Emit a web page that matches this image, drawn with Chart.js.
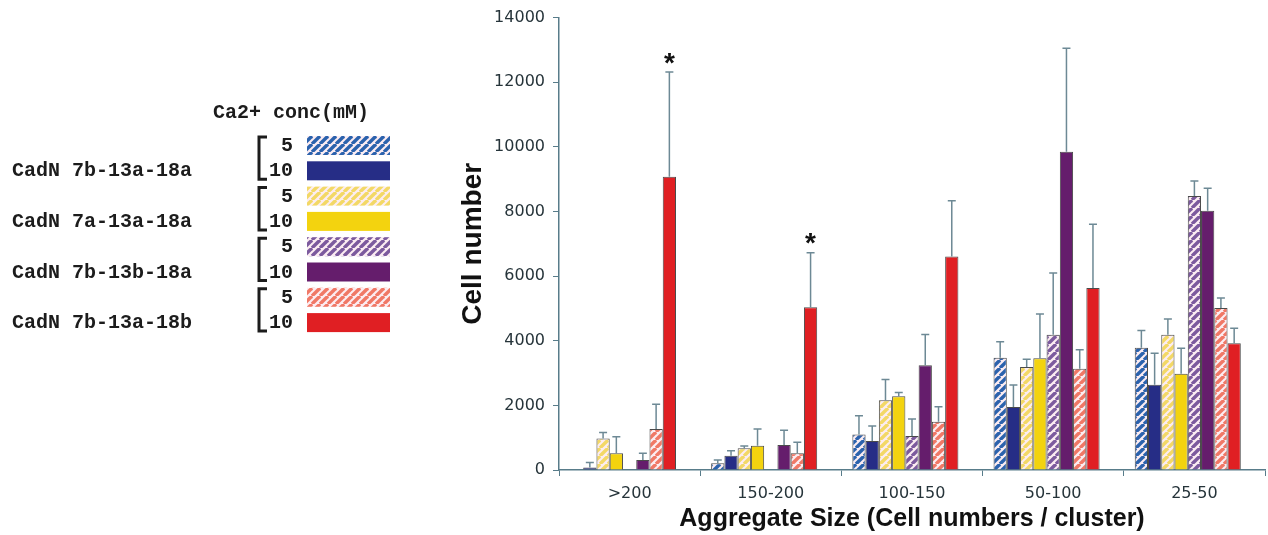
<!DOCTYPE html>
<html>
<head>
<meta charset="utf-8">
<script src="https://cdn.jsdelivr.net/npm/chart.js@4.4.1/dist/chart.umd.min.js"></script>
<style>
  body { margin: 0; background: #fff; }
  #wrap { position: relative; width: 1268px; height: 535px; }
</style>
</head>
<body>
<div id="wrap"><canvas id="myChart"></canvas></div>
<script>
const categories = ['>200', '150-200', '100-150', '50-100', '25-50']
const yTicks = [0, 2000, 4000, 6000, 8000, 10000, 12000, 14000]

// mean cell numbers, one array per construct / Ca2+ concentration
const b13a18a_5 = [null, 206, 1100, 3470, 3780]
const b13a18a_10 = [80, 440, 895, 1950, 2640]
const a13a18a_5 = [975, 670, 2160, 3190, 4185]
const a13a18a_10 = [515, 750, 2280, 3455, 2980]
const b13b18a_5 = [null, null, 1050, 4185, 8480]
const b13b18a_10 = [310, 770, 3240, 9850, 8020]
const b13a18b_5 = [1265, 515, 1490, 3135, 5015]
const b13a18b_10 = [9075, 5035, 6610, 5635, 3925]

// upper error bars (SD)
const b13a18a_5Err = [null, 100, 575, 495, 535]
const b13a18a_10Err = [155, 155, 465, 680, 975]
const a13a18a_5Err = [185, 70, 640, 235, 485]
const a13a18a_10Err = [515, 515, 115, 1375, 790]
const b13b18a_5Err = [null, null, 525, 1910, 465]
const b13b18a_10Err = [205, 460, 955, 3205, 700]
const b13a18b_5Err = [770, 340, 465, 585, 310]
const b13a18b_10Err = [3240, 1690, 1725, 1970, 460]

const b13a18b_10Sig = ['*', '*', '', '', '']

const legendTitle = 'Ca2+ conc(mM)'
const constructs = ['CadN 7b-13a-18a', 'CadN 7a-13a-18a', 'CadN 7b-13b-18a', 'CadN 7b-13a-18b']
const concs = ['5', '10']

const axisColor = '#587c8a'
const errColor = '#6d8995'
const hatchBg = '#fcedf2'

const ctx = document.getElementById('myChart').getContext('2d')

const makeHatch = (stripe) => {
  const c = document.createElement('canvas')
  c.width = 8
  c.height = 8
  const g = c.getContext('2d')
  g.fillStyle = hatchBg
  g.fillRect(0, 0, 8, 8)
  g.strokeStyle = stripe
  g.lineWidth = 3.4
  for (const o of [-8, 0, 8]) {
    g.beginPath()
    g.moveTo(o, 8)
    g.lineTo(o + 8, 0)
    g.stroke()
  }
  return ctx.createPattern(c, 'repeat')
}

const series = [
  { data: b13a18a_5, err: b13a18a_5Err, fill: makeHatch('#2b62ad') },
  { data: b13a18a_10, err: b13a18a_10Err, fill: '#262d86' },
  { data: a13a18a_5, err: a13a18a_5Err, fill: makeHatch('#f3d866') },
  { data: a13a18a_10, err: a13a18a_10Err, fill: '#f3d30f' },
  { data: b13b18a_5, err: b13b18a_5Err, fill: makeHatch('#7c5a9e') },
  { data: b13b18a_10, err: b13b18a_10Err, fill: '#651d6c' },
  { data: b13a18b_5, err: b13a18b_5Err, fill: makeHatch('#f07866') },
  { data: b13a18b_10, err: b13a18b_10Err, fill: '#e01f23', sig: b13a18b_10Sig }
]

const datasets = series.map((s, i) => ({
  label: constructs[Math.floor(i / 2)] + ' ' + concs[i % 2],
  data: s.data,
  backgroundColor: s.fill,
  borderColor: '#4a4a4a',
  borderWidth: 1
}))
// empty slot at the right of each group, as in the original layout
datasets.push({ label: '', data: categories.map(() => null) })

const errorBars = {
  id: 'errorBars',
  afterDatasetsDraw(chart) {
    const c = chart.ctx
    const y = chart.scales.y
    c.save()
    series.forEach((s, d) => {
      const meta = chart.getDatasetMeta(d)
      s.data.forEach((v, j) => {
        if (v == null || s.err[j] == null) return
        const x = meta.data[j].x
        const y0 = y.getPixelForValue(v)
        const y1 = y.getPixelForValue(v + s.err[j])
        c.strokeStyle = errColor
        c.lineWidth = 1.5
        c.beginPath()
        c.moveTo(x, y0)
        c.lineTo(x, y1)
        c.moveTo(x - 4, y1)
        c.lineTo(x + 4, y1)
        c.stroke()
        if (s.sig && s.sig[j]) {
          c.fillStyle = '#111'
          c.font = 'bold 28px "Liberation Sans"'
          c.textAlign = 'center'
          c.textBaseline = 'middle'
          c.fillText(s.sig[j], x, y1 - 8)
        }
      })
    })
    c.restore()
  }
}

const sideLegend = {
  id: 'sideLegend',
  afterDraw(chart) {
    const c = chart.ctx
    c.save()
    c.fillStyle = '#1c1c1c'
    c.font = 'bold 20px "Liberation Mono"'
    c.textBaseline = 'middle'
    c.textAlign = 'left'
    c.fillText(legendTitle, 213, 113)
    series.forEach((s, i) => {
      const top = 136 + i * 25.3
      c.fillStyle = s.fill
      c.fillRect(307, top, 83, 19)
      c.fillStyle = '#1c1c1c'
      c.textAlign = 'right'
      c.fillText(concs[i % 2], 293, top + 10)
      if (i % 2 === 1) {
        c.textAlign = 'left'
        c.fillText(constructs[(i - 1) / 2], 12, top + 10)
        const bt = top - 25.3 + 1
        c.strokeStyle = '#1c1c1c'
        c.lineWidth = 3
        c.beginPath()
        c.moveTo(267, bt)
        c.lineTo(259, bt)
        c.lineTo(259, top + 18)
        c.lineTo(267, top + 18)
        c.stroke()
      }
    })
    c.restore()
  }
}

const tickFont = { family: '"DejaVu Sans"', size: 16 }

new Chart(ctx, {
  type: 'bar',
  data: { labels: categories, datasets: datasets },
  options: {
    responsive: true,
    maintainAspectRatio: false,
    animation: false,
    layout: { padding: { left: 456, top: 16, right: 3, bottom: 1 } },
    datasets: { bar: { categoryPercentage: 0.845, barPercentage: 1 } },
    plugins: { legend: { display: false }, tooltip: { enabled: false } },
    scales: {
      x: {
        grid: { drawOnChartArea: false, tickLength: 6, color: axisColor, offset: true },
        border: { color: axisColor, width: 1.5 },
        ticks: { color: '#26343a', font: tickFont, padding: 8 },
        title: {
          display: true,
          text: 'Aggregate Size (Cell numbers / cluster)',
          color: '#111',
          font: { family: '"Liberation Sans"', size: 25, weight: 'bold' },
          padding: 0
        },
        afterFit: (scale) => { scale.height = 64 }
      },
      y: {
        min: 0,
        max: 14000,
        afterBuildTicks: (scale) => { scale.ticks = yTicks.map(v => ({ value: v })) },
        grid: { drawOnChartArea: false, tickLength: 6, color: axisColor },
        border: { color: axisColor, width: 1.5 },
        ticks: { color: '#26343a', font: tickFont, padding: 8, callback: (v) => String(v) },
        title: {
          display: true,
          text: 'Cell number',
          color: '#111',
          font: { family: '"Liberation Sans"', size: 28, weight: 'bold' },
          padding: 0
        },
        afterFit: (scale) => { scale.width = 103 }
      }
    }
  },
  plugins: [errorBars, sideLegend]
})
</script>
</body>
</html>
